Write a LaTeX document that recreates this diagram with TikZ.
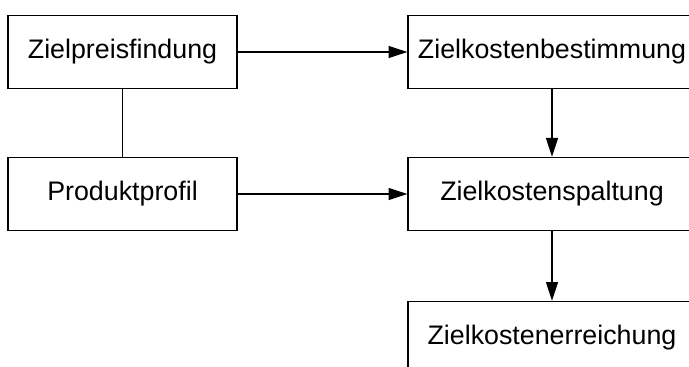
\documentclass[tikz,border=0pt]{standalone}
\usepackage{fontspec}
\setmainfont{Liberation Sans}
\usetikzlibrary{arrows.meta}
\newcommand{\stage}[5]{\node[draw,line width=1pt,rectangle,inner sep=0pt,minimum width=#4pt,minimum height=55pt,font=\fontsize{20.1}{24}\selectfont] (#1) at (#2,#3) {#5};}
\newcommand{\link}[2]{\draw[line width=0.9pt] (#1) -- (#2);}
\newcommand{\flow}[2]{\draw[line width=0.9pt,-{Triangle[length=14pt,width=9pt]}] (#1) -- (#2);}

\begin{document}
\begin{tikzpicture}[x=0.75pt,y=-0.75pt]
    \clip (0,0) rectangle (689,367);
    \stage{preis}{122.5}{52}{171.75}{Zielpreisfindung}
    \stage{profil}{122.5}{194}{171.75}{Produktprofil}
    \stage{bestimmung}{552}{52}{216}{Zielkostenbestimmung}
    \stage{spaltung}{552}{194}{216}{Zielkostenspaltung}
    \stage{erreichung}{552}{338}{216}{Zielkostenerreichung}
    \link{preis}{profil}
    \flow{preis}{bestimmung}\flow{profil}{spaltung}
    \flow{bestimmung}{spaltung}\flow{spaltung}{erreichung}
\end{tikzpicture}
\end{document}
